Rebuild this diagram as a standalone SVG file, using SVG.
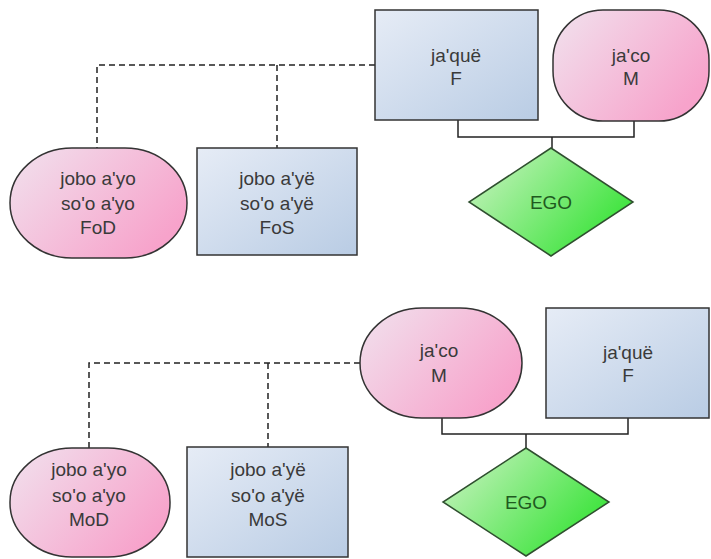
<svg xmlns="http://www.w3.org/2000/svg" width="711" height="559" viewBox="0 0 711 559">
  <defs>
    <linearGradient id="gPink" x1="0" y1="0" x2="1" y2="0.6">
      <stop offset="0" stop-color="#f1e2ee"/>
      <stop offset="1" stop-color="#f7a3cb"/>
    </linearGradient>
    <linearGradient id="gBlue" x1="0" y1="0" x2="1" y2="1">
      <stop offset="0" stop-color="#e6ecf6"/>
      <stop offset="1" stop-color="#b9cce4"/>
    </linearGradient>
    <linearGradient id="gGreen" x1="0" y1="0.2" x2="1" y2="0.8">
      <stop offset="0" stop-color="#c4f2bc"/>
      <stop offset="1" stop-color="#2ee22e"/>
    </linearGradient>
  </defs>
  <style>
    .female { fill: url(#gPink); stroke: #333; stroke-width: 1.5; }
    .male { fill: url(#gBlue); stroke: #333; stroke-width: 1.5; }
    .ego { fill: url(#gGreen); stroke: #2f4f2f; stroke-width: 1.5; }
    .lbl { font-family: "Liberation Sans", Arial, sans-serif; font-size: 19px; fill: #3a3a3a; text-anchor: middle; }
    .egoLbl { font-family: "Liberation Sans", Arial, sans-serif; font-size: 19px; fill: #1f5a1f; text-anchor: middle; }
    .solid { fill: none; stroke: #222; stroke-width: 1.5; }
    .dashed { fill: none; stroke: #222; stroke-width: 1.5; stroke-dasharray: 6 4; }
  </style>

  <rect width="711" height="559" fill="#ffffff"/>

  <!-- connectors -->
  <g id="connectors">
    <!-- father's side -->
    <path class="solid" d="M458 120 V137 H634 V121"/>
    <path class="solid" d="M552 137 V148"/>
    <path class="dashed" d="M375 65 H97 V148"/>
    <path class="dashed" d="M277 65 V148"/>
    <!-- mother's side -->
    <path class="solid" d="M442 418 V434 H628 V418"/>
    <path class="solid" d="M526 434 V448"/>
    <path class="dashed" d="M360 363 H89 V448"/>
    <path class="dashed" d="M268 363 V447"/>
  </g>

  <!-- father's side -->
  <g id="top-father">
    <rect class="male" x="375" y="10" width="163" height="110"/>
    <text class="lbl" x="456" y="62">ja'quë</text>
    <text class="lbl" x="456" y="85">F</text>
  </g>
  <g id="top-mother">
    <rect class="female" x="553" y="10" width="156" height="111" rx="50" ry="50"/>
    <text class="lbl" x="631" y="62">ja'co</text>
    <text class="lbl" x="631" y="85">M</text>
  </g>
  <g id="top-ego">
    <polygon class="ego" points="551,148 633,202 551,256 469,202"/>
    <text class="egoLbl" x="551" y="209">EGO</text>
  </g>
  <g id="FoD">
    <rect class="female" x="10" y="148" width="177" height="110" rx="62" ry="55"/>
    <text class="lbl" x="98" y="185">jobo a'yo</text>
    <text class="lbl" x="98" y="210">so'o a'yo</text>
    <text class="lbl" x="98" y="234">FoD</text>
  </g>
  <g id="FoS">
    <rect class="male" x="197" y="148" width="160" height="107"/>
    <text class="lbl" x="277" y="185">jobo a'yë</text>
    <text class="lbl" x="277" y="210">so'o a'yë</text>
    <text class="lbl" x="277" y="234">FoS</text>
  </g>

  <!-- mother's side -->
  <g id="bottom-mother">
    <rect class="female" x="360" y="308" width="162" height="110" rx="62" ry="55"/>
    <text class="lbl" x="439" y="357">ja'co</text>
    <text class="lbl" x="439" y="382">M</text>
  </g>
  <g id="bottom-father">
    <rect class="male" x="546" y="308" width="163" height="110"/>
    <text class="lbl" x="628" y="359">ja'quë</text>
    <text class="lbl" x="628" y="382">F</text>
  </g>
  <g id="bottom-ego">
    <polygon class="ego" points="526,448 609,502 526,556 443,502"/>
    <text class="egoLbl" x="526" y="509">EGO</text>
  </g>
  <g id="MoD">
    <rect class="female" x="10" y="448" width="160" height="109" rx="62" ry="54"/>
    <text class="lbl" x="89" y="476">jobo a'yo</text>
    <text class="lbl" x="89" y="502">so'o a'yo</text>
    <text class="lbl" x="89" y="526">MoD</text>
  </g>
  <g id="MoS">
    <rect class="male" x="187" y="447" width="161" height="110"/>
    <text class="lbl" x="268" y="476">jobo a'yë</text>
    <text class="lbl" x="268" y="502">so'o a'yë</text>
    <text class="lbl" x="268" y="526">MoS</text>
  </g>
</svg>
